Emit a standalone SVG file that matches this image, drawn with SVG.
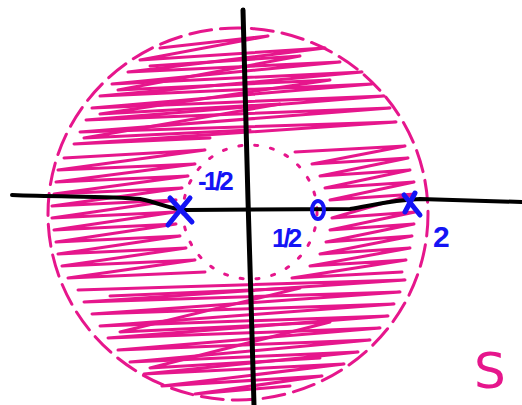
<svg xmlns="http://www.w3.org/2000/svg" width="522" height="405" viewBox="0 0 522 405">
<style>
.pk{fill:none;stroke:#e6168c;stroke-width:3;stroke-linecap:round;stroke-linejoin:round}
.ax{fill:none;stroke:#000;stroke-linecap:round;stroke-linejoin:round}
.bl{fill:none;stroke:#1414f5;stroke-width:5;stroke-linecap:round}
.lb{font-family:"Liberation Sans",Arial,sans-serif;font-weight:bold;fill:#1414f5}
</style>
<rect width="522" height="405" fill="#fff"/>
<g id="region">
<ellipse class="pk" cx="238" cy="214" rx="190" ry="186" stroke-dasharray="22 9"/>
<circle class="pk" cx="250" cy="212" r="67" stroke-dasharray="3 13"/>
<path class="pk" d="M160,48 L268,36 L140,60 L325,48 L128,72 L340,62 L112,84 L362,72 L100,96 L372,84 L92,108 L384,96 L86,120 L390,108 L80,132 L396,122 L74,144 L210,138"/>
<path class="pk" d="M150,66 L300,56 L118,90 L330,80 L100,114 L280,104 L84,138 L250,130"/>
<path class="pk" d="M64,158 L205,150 L58,170 L195,164 L56,182 L188,176 L54,194 L182,188 L52,206 L176,200 L52,218 L175,212 L54,230 L176,224 L56,242 L180,236 L58,254 L186,248 L62,266 L195,260 L68,278 L205,272"/>
<path class="pk" d="M295,152 L405,146 L312,164 L408,158 L320,176 L410,170 L325,188 L414,182 L330,200 L415,194 L332,218 L415,212 L330,230 L414,224 L326,242 L412,236 L320,254 L410,248 L310,266 L406,260 L292,278 L402,272"/>
<path class="pk" d="M78,290 L405,280 L84,302 L400,292 L92,314 L394,304 L100,326 L388,316 L108,338 L380,328 L118,350 L370,340 L130,362 L358,352 L144,374 L344,364 L162,386 L322,376 L195,394 L290,386"/>
<path class="pk" d="M110,296 L300,288 L120,332 L330,322 L150,368 L320,358"/>
</g>
<g id="axes">
<path class="ax" stroke-width="4" d="M12,195 C60,197 110,196 140,199 C160,203 170,209 185,210 L350,209 C370,206 390,200 420,199 L522,202"/>
<path class="ax" stroke-width="5" d="M243,10 L248,200 L251,300 L254,405"/>
</g>
<g id="marks">
<path class="bl" d="M170,198 L192,222 M190,198 L168,225"/>
<ellipse cx="318" cy="210" rx="6" ry="9" fill="none" stroke="#1414f5" stroke-width="4"/>
<path class="bl" stroke-width="4" d="M404,195 L420,215 M415,193 L405,212"/>
</g>
<g id="labels">
<text class="lb" x="198" y="190" font-size="26" letter-spacing="-3">-1/2</text>
<text class="lb" x="272" y="247" font-size="26" letter-spacing="-3">1/2</text>
<text class="lb" x="433" y="247" font-size="30">2</text>
<text x="474" y="388" font-family="DejaVu Sans,sans-serif" font-size="50" fill="#e6168c">S</text>
</g>
</svg>
